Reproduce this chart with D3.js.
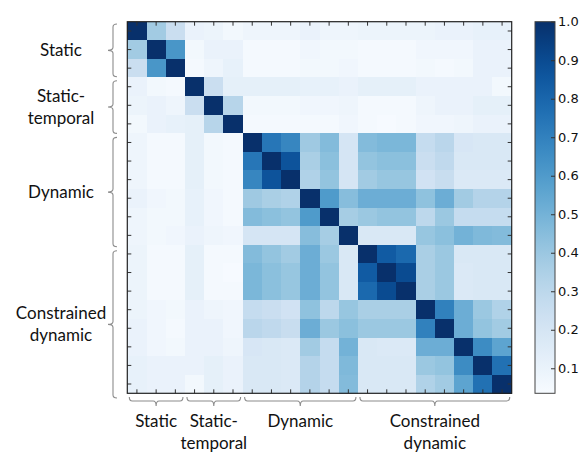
<!DOCTYPE html>
<html lang="en">
<head>
  <meta charset="UTF-8">
  <title>Correlation heatmap</title>
  <script src="https://d3js.org/d3.v7.min.js"></script>
  <style>
    body { margin: 0; padding: 0; background: #fff; }
    svg { display: block; }
    .grp { font-family: Lato, "Open Sans", sans-serif; font-size: 17px; fill: #111; }
  </style>
</head>
<body>
<div id="chart"></div>
<script>
  // correlation matrix, 20 features (rows = cols)
  const corr = [
    [1.00,0.38,0.25,0.10,0.09,0.06,0.08,0.08,0.08,0.10,0.08,0.08,0.09,0.09,0.09,0.09,0.10,0.10,0.11,0.11],
    [0.38,1.00,0.62,0.06,0.10,0.10,0.05,0.05,0.05,0.07,0.06,0.06,0.05,0.05,0.05,0.07,0.07,0.07,0.10,0.10],
    [0.25,0.62,1.00,0.05,0.08,0.11,0.05,0.05,0.05,0.06,0.06,0.07,0.05,0.05,0.05,0.06,0.05,0.06,0.10,0.10],
    [0.10,0.06,0.05,1.00,0.25,0.12,0.12,0.12,0.12,0.11,0.11,0.10,0.12,0.12,0.12,0.10,0.10,0.10,0.10,0.06],
    [0.09,0.10,0.08,0.25,1.00,0.32,0.06,0.06,0.06,0.07,0.07,0.08,0.05,0.05,0.05,0.08,0.10,0.10,0.12,0.12],
    [0.06,0.10,0.11,0.12,0.32,1.00,0.05,0.05,0.05,0.05,0.05,0.07,0.05,0.04,0.05,0.07,0.07,0.08,0.10,0.10],
    [0.08,0.05,0.05,0.12,0.06,0.05,1.00,0.74,0.68,0.39,0.46,0.20,0.46,0.48,0.48,0.27,0.31,0.19,0.18,0.18],
    [0.08,0.05,0.05,0.12,0.06,0.05,0.74,1.00,0.87,0.36,0.44,0.20,0.42,0.44,0.44,0.25,0.29,0.18,0.18,0.18],
    [0.08,0.05,0.05,0.12,0.06,0.05,0.68,0.87,1.00,0.34,0.42,0.20,0.38,0.41,0.41,0.22,0.26,0.17,0.17,0.17],
    [0.10,0.07,0.06,0.11,0.07,0.05,0.39,0.36,0.34,1.00,0.60,0.45,0.52,0.52,0.52,0.43,0.52,0.38,0.33,0.33],
    [0.08,0.06,0.06,0.11,0.07,0.05,0.46,0.44,0.42,0.60,1.00,0.37,0.40,0.42,0.42,0.30,0.40,0.27,0.27,0.27],
    [0.08,0.06,0.07,0.10,0.08,0.07,0.20,0.20,0.20,0.45,0.37,1.00,0.18,0.18,0.18,0.41,0.44,0.50,0.47,0.46],
    [0.09,0.05,0.05,0.12,0.05,0.05,0.46,0.42,0.38,0.52,0.40,0.18,1.00,0.84,0.79,0.36,0.40,0.18,0.18,0.18],
    [0.09,0.05,0.05,0.12,0.05,0.04,0.48,0.44,0.41,0.52,0.42,0.18,0.84,1.00,0.90,0.36,0.40,0.17,0.18,0.18],
    [0.09,0.05,0.05,0.12,0.05,0.05,0.48,0.44,0.41,0.52,0.42,0.18,0.79,0.90,1.00,0.36,0.40,0.17,0.18,0.18],
    [0.09,0.07,0.06,0.10,0.08,0.07,0.27,0.25,0.22,0.43,0.30,0.41,0.36,0.36,0.36,1.00,0.70,0.52,0.40,0.34],
    [0.10,0.07,0.05,0.10,0.10,0.07,0.31,0.29,0.26,0.52,0.40,0.44,0.40,0.40,0.40,0.70,1.00,0.52,0.42,0.38],
    [0.10,0.07,0.06,0.10,0.10,0.08,0.19,0.18,0.17,0.38,0.27,0.50,0.18,0.17,0.17,0.52,0.52,1.00,0.66,0.56],
    [0.11,0.10,0.10,0.10,0.12,0.10,0.18,0.18,0.17,0.33,0.27,0.47,0.18,0.18,0.18,0.40,0.42,0.66,1.00,0.76],
    [0.11,0.10,0.10,0.06,0.12,0.10,0.18,0.18,0.17,0.33,0.27,0.46,0.18,0.18,0.18,0.34,0.38,0.56,0.76,1.00]
  ];

  // feature groups: label lines, first index, end index (exclusive)
  const groupLabels = [["Static"], ["Static-", "temporal"], ["Dynamic"], ["Constrained", "dynamic"]];
  const groupStart  = [0, 3, 6, 12];
  const groupEnd    = [3, 6, 12, 20];

  const colorMin = 0.035, colorMax = 1.0;
  const cbTicks = [0.1, 0.2, 0.3, 0.4, 0.5, 0.6, 0.7, 0.8, 0.9, 1.0];

  // layout
  const W = 581, H = 455;
  const plot = { left: 127.3, right: 511.7, top: 21.7, bottom: 393.3 };
  const cbar = { left: 535, right: 555 };
  const n = corr.length;
  const idx = d3.range(n);

  const svg = d3.select("#chart").append("svg")
    .attr("width", W).attr("height", H);

  const x = d3.scaleBand().domain(idx).range([plot.left, plot.right]);
  const y = d3.scaleBand().domain(idx).range([plot.top, plot.bottom]);
  const color = d3.scaleSequential(d3.interpolateBlues).domain([colorMin, colorMax]);

  // cells
  const cells = [];
  corr.forEach((row, i) => row.forEach((v, j) => cells.push({ i, j, v })));
  svg.append("g").selectAll("rect")
    .data(cells).enter().append("rect")
      .attr("x", d => x(d.j))
      .attr("y", d => y(d.i))
      .attr("width", x.bandwidth() + 0.3)
      .attr("height", y.bandwidth() + 0.3)
      .attr("fill", d => color(d.v))
      .attr("shape-rendering", "crispEdges");

  // inward ticks on all four sides (matplotlib classic style)
  const tk = 4;
  const ticks = svg.append("g").attr("stroke", "#333").attr("stroke-width", 1);
  idx.forEach(k => {
    const cx = x(k) + x.bandwidth() / 2, cy = y(k) + y.bandwidth() / 2;
    ticks.append("line").attr("x1", cx).attr("x2", cx).attr("y1", plot.top).attr("y2", plot.top + tk);
    ticks.append("line").attr("x1", cx).attr("x2", cx).attr("y1", plot.bottom).attr("y2", plot.bottom - tk);
    ticks.append("line").attr("y1", cy).attr("y2", cy).attr("x1", plot.left).attr("x2", plot.left + tk);
    ticks.append("line").attr("y1", cy).attr("y2", cy).attr("x1", plot.right).attr("x2", plot.right - tk);
  });

  svg.append("rect")
    .attr("x", plot.left).attr("y", plot.top)
    .attr("width", plot.right - plot.left).attr("height", plot.bottom - plot.top)
    .attr("fill", "none").attr("stroke", "#222").attr("stroke-width", 1.2);

  // colorbar
  const cy = d3.scaleLinear().domain([colorMin, colorMax]).range([plot.bottom, plot.top]);
  const defs = svg.append("defs");
  const grad = defs.append("linearGradient").attr("id", "cbgrad")
    .attr("x1", 0).attr("x2", 0).attr("y1", 1).attr("y2", 0);
  d3.range(0, 1.0001, 0.05).forEach(t => {
    grad.append("stop").attr("offset", t)
      .attr("stop-color", color(colorMin + t * (colorMax - colorMin)));
  });
  const cb = svg.append("g");
  cb.append("rect")
    .attr("x", cbar.left).attr("y", plot.top)
    .attr("width", cbar.right - cbar.left).attr("height", plot.bottom - plot.top)
    .attr("fill", "url(#cbgrad)").attr("stroke", "#444").attr("stroke-width", 1);

  // inward ticks: the axis puts labels at max(inner,0)+padding from the bar edge
  const cbAxis = d3.axisRight(cy).tickValues(cbTicks).tickFormat(d3.format(".1f"))
    .tickSizeInner(-4).tickSizeOuter(0).tickPadding(3);
  cb.append("g").attr("transform", `translate(${cbar.right},0)`).call(cbAxis)
    .call(g => g.select(".domain").remove())
    .call(g => g.selectAll("line").attr("stroke", "#333"))
    .call(g => g.selectAll("text").attr("font-family", "DejaVu Sans").attr("font-size", 13).attr("fill", "#111"));

  // group brackets (hand-drawn brace style, slightly offset from the grid)
  const by = d3.scaleLinear().domain([0, n]).range([22, 400]);
  const bx = d3.scaleLinear().domain([0, n]).range([127.3, 511.7]);
  const brace = svg.append("g").attr("fill", "none").attr("stroke", "#8c8c8c").attr("stroke-width", 1.1);
  const r = 3;

  groupLabels.forEach((lines, g) => {
    // left brace
    const t = by(groupStart[g]) + 2, b = by(groupEnd[g]) - 2, m = (t + b) / 2, xl = 113;
    brace.append("path").attr("d",
      `M${xl + r + 1},${t} Q${xl},${t} ${xl},${t + r} L${xl},${m - r} Q${xl},${m} ${xl - r - 2},${m}` +
      `M${xl - r - 2},${m} Q${xl},${m} ${xl},${m + r} L${xl},${b - r} Q${xl},${b} ${xl + r + 1},${b}`);
    const lt = svg.append("text").attr("class", "grp").attr("text-anchor", "middle");
    const lh = 22;
    lines.forEach((s, k) => {
      lt.append("tspan").attr("x", 61)
        .attr("y", m + (k - (lines.length - 1) / 2) * lh)
        .attr("dy", "0.35em").text(s);
    });

    // bottom brace
    const l = bx(groupStart[g]) + 2, rr = bx(groupEnd[g]) - 2, c = (l + rr) / 2, yb = 401;
    brace.append("path").attr("d",
      `M${l},${yb - r - 1} Q${l},${yb} ${l + r},${yb} L${c - r},${yb} Q${c},${yb} ${c},${yb + r + 2}` +
      `M${c},${yb + r + 2} Q${c},${yb} ${c + r},${yb} L${rr - r},${yb} Q${rr},${yb} ${rr},${yb - r - 1}`);
    const bt = svg.append("text").attr("class", "grp").attr("text-anchor", "middle");
    lines.forEach((s, k) => {
      bt.append("tspan").attr("x", c).attr("y", 421 + k * 22).attr("dy", "0.35em").text(s);
    });
  });
</script>
</body>
</html>
